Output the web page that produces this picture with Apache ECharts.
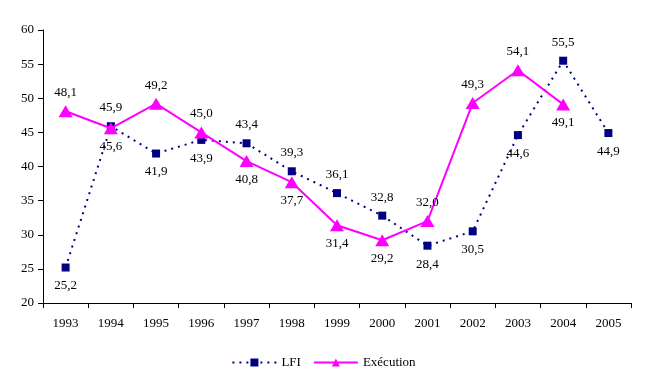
<!DOCTYPE html>
<html><head><meta charset="utf-8">
<script src="https://cdn.jsdelivr.net/npm/echarts@6/dist/echarts.min.js"></script>
<style>html,body{margin:0;padding:0;background:#fff}#c{width:647px;height:386px}</style>
</head><body><div id="c"></div>
<script>
var years = ['1993','1994','1995','1996','1997','1998','1999','2000','2001','2002','2003','2004','2005'];
var lfi = [25.2,45.9,41.9,43.9,43.4,39.3,36.1,32.8,28.4,30.5,44.6,55.5,44.9];
var execution = [48.1,45.6,49.2,45.0,40.8,37.7,31.4,29.2,32.0,49.3,54.1,49.1,null];
var lfiLabelPos = ['bottom','top','bottom','bottom','top','top','top','top','bottom','bottom','bottom','top','bottom'];
var execLabelPos = ['top','bottom','top','top','bottom','bottom','bottom','bottom','top','top','top','bottom','top'];
var fmt = function(v){ return v.toFixed(1).replace('.', ','); };
var font = 'Liberation Serif';
function mk(vals, pos){
  return vals.map(function(v,i){
    return v===null ? null : {value:v, label:{position:pos[i]}};
  });
}
var chart = echarts.init(document.getElementById('c'), null, {renderer:'canvas'});
chart.setOption({
  animation:false,
  textStyle:{fontFamily:font},
  grid:{left:43,right:16,top:30,bottom:83},
  legend:{
    bottom:12, left:'center', itemWidth:44, itemHeight:10, itemGap:12,
    textStyle:{fontFamily:font,fontSize:13,color:'#000'},
    data:['LFI','Exécution']
  },
  xAxis:{
    type:'category', data:years, boundaryGap:true,
    axisLine:{lineStyle:{color:'#000',width:1}},
    axisTick:{show:true,length:5,lineStyle:{color:'#000'},alignWithLabel:false},
    axisLabel:{color:'#000',fontFamily:font,fontSize:13,margin:14}
  },
  yAxis:{
    type:'value', min:20, max:60, interval:5,
    axisLine:{show:true,lineStyle:{color:'#000',width:1}},
    axisTick:{show:true,inside:false,length:5,lineStyle:{color:'#000'}},
    splitLine:{show:false},
    axisLabel:{color:'#000',fontFamily:font,fontSize:13,margin:9}
  },
  series:[
    {
      name:'LFI', type:'line', data:mk(lfi,lfiLabelPos),
      symbol:'rect', symbolSize:8,
      itemStyle:{color:'#000080'},
      lineStyle:{color:'#000080',width:2,type:[2,5]},
      label:{show:true,formatter:function(p){return fmt(p.value);},color:'#000',fontFamily:font,fontSize:13,distance:8},
      z:2
    },
    {
      name:'Exécution', type:'line', data:mk(execution,execLabelPos),
      symbol:'triangle', symbolSize:[14,12],
      itemStyle:{color:'#FF00FF'},
      lineStyle:{color:'#FF00FF',width:2},
      label:{show:true,formatter:function(p){return fmt(p.value);},color:'#000',fontFamily:font,fontSize:13,distance:6},
      z:3
    }
  ]
});
</script></body></html>
